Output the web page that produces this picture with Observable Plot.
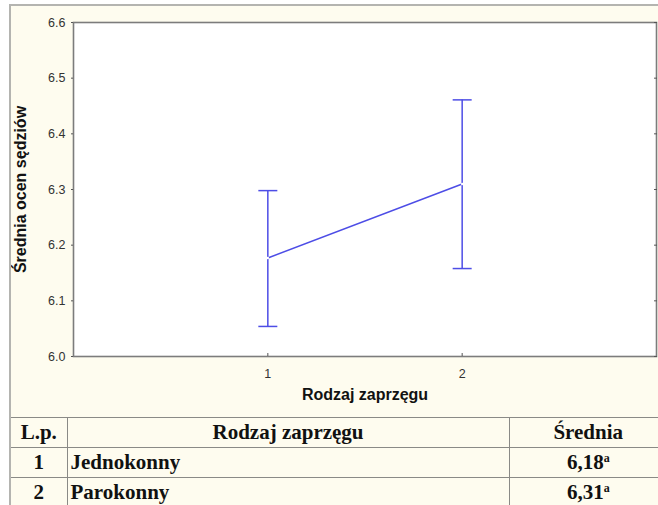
<!DOCTYPE html>
<html>
<head>
<meta charset="utf-8">
<script src="https://cdn.jsdelivr.net/npm/d3@7"></script>
<script src="https://cdn.jsdelivr.net/npm/@observablehq/plot@0.6"></script>
<style>
  html, body { margin: 0; padding: 0; background: #ffffff; }
  #wrap {
    position: absolute; left: 9px; top: 4px; width: 647px; height: 499px;
    border-left: 2px solid #b4b4b0; border-top: 2px solid #b4b4b0;
    background: #fefcef; overflow: hidden;
  }
  #chart { position: absolute; left: 0; top: 0; }
  #chart svg { overflow: visible; }
  table {
    position: absolute; left: 0; top: 411px; border-collapse: collapse; table-layout: fixed;
    width: 656px; font-family: "Liberation Serif", "Times New Roman", serif; font-weight: bold;
    font-size: 21px; color: #111;
  }
  td { border-top: 1px solid #8a8a86; border-left: 1px solid #8a8a86; padding: 0 3px; height: 29px; line-height: 29px; white-space: nowrap; }
  td:first-child { border-left: none; text-align: center; }
  td.c { text-align: center; }
  sup { font-size: 12px; vertical-align: 7px; line-height: 0; }
</style>
</head>
<body>
<div id="wrap">
  <div id="chart"></div>
  <table id="tbl"></table>
</div>
<script>
// ---- data ----
const xValues = [1, 2];
const means = [6.177, 6.310];
const lower = [6.054, 6.158];
const upper = [6.298, 6.461];
const xTicks = [1, 2];
const yTicks = [6.0, 6.1, 6.2, 6.3, 6.4, 6.5, 6.6];
const xLabel = "Rodzaj zaprzęgu";
const yLabel = "Średnia ocen sędziów";
const tableHeader = ["L.p.", "Rodzaj zaprzęgu", "Średnia"];
const tableLp = ["1", "2"];
const tableNames = ["Jednokonny", "Parokonny"];
const tableMeans = ["6,18", "6,31"];
const tableSup = ["a", "a"];

const data = xValues.map((x, i) => ({x, mean: means[i], lo: lower[i], hi: upper[i]}));

const blue = "#4d4de6";
const cap = { draw(ctx) { ctx.moveTo(-9.5, 0); ctx.lineTo(9.5, 0); } };

const chart = Plot.plot({
  width: 647,
  height: 411,
  marginLeft: 62,
  marginTop: 16,
  marginRight: 2,
  marginBottom: 61,
  style: { fontFamily: "'Liberation Sans', Arial, sans-serif", fontSize: "12.5px", background: "transparent", color: "#333", overflow: "visible" },
  x: { domain: [0, 3] },
  y: { domain: [6.0, 6.6] },
  marks: [
    Plot.frame({ fill: "white", stroke: "#7c7c7c", strokeWidth: 1.6 }),
    Plot.axisY({ anchor: "left", ticks: yTicks, tickFormat: d3.format(".1f"), tickSize: 2, tickPadding: 6, label: null, stroke: "#555" }),
    Plot.axisY({ anchor: "right", ticks: yTicks, tickFormat: () => "", tickSize: -3, label: null, stroke: "#555" }),
    Plot.axisX({ anchor: "bottom", ticks: xTicks, tickFormat: d3.format("d"), tickSize: -3, tickPadding: 16, label: null, stroke: "#555" }),
    Plot.ruleX(data, { x: "x", y1: "lo", y2: "hi", stroke: blue, strokeWidth: 1.5 }),
    Plot.dot(data, { x: "x", y: "hi", symbol: cap, stroke: blue, strokeWidth: 1.5, fill: "none" }),
    Plot.dot(data, { x: "x", y: "lo", symbol: cap, stroke: blue, strokeWidth: 1.5, fill: "none" }),
    Plot.line(data, { x: "x", y: "mean", stroke: blue, strokeWidth: 1.5 }),
    Plot.dot(data, { x: "x", y: "mean", r: 1.2, fill: "white" }),
    Plot.text([xLabel], { frameAnchor: "bottom", dy: 43, fontWeight: "bold", fontSize: 16, fill: "#111", textAnchor: "middle" }),
    Plot.text([yLabel], { frameAnchor: "left", dx: -53, rotate: -90, fontWeight: "bold", fontSize: 16, fill: "#111", textAnchor: "middle" })
  ]
});
document.getElementById("chart").appendChild(chart);

// ---- table ----
const tbl = document.getElementById("tbl");
const colgroup = document.createElement("colgroup");
[56, 442, 158].forEach(w => { const c = document.createElement("col"); c.style.width = w + "px"; colgroup.appendChild(c); });
tbl.appendChild(colgroup);
const hr = document.createElement("tr");
tableHeader.forEach(h => { const td = document.createElement("td"); td.className = "c"; td.textContent = h; hr.appendChild(td); });
tbl.appendChild(hr);
tableLp.forEach((lp, i) => {
  const tr = document.createElement("tr");
  const a = document.createElement("td"); a.textContent = lp; tr.appendChild(a);
  const b = document.createElement("td"); b.textContent = tableNames[i]; tr.appendChild(b);
  const c = document.createElement("td"); c.className = "c";
  c.appendChild(document.createTextNode(tableMeans[i]));
  const s = document.createElement("sup"); s.textContent = tableSup[i]; c.appendChild(s);
  tr.appendChild(c);
  tbl.appendChild(tr);
});
</script>
</body>
</html>
